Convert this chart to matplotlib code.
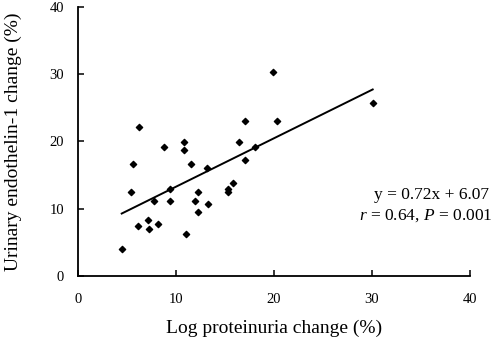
import matplotlib
matplotlib.use("Agg")
import matplotlib.pyplot as plt
import numpy as np

# Data
x_vals = [4.46, 5.44, 6.12, 7.11, 7.28, 7.79, 8.2, 9.35, 9.42, 11.0, 11.94,
          12.24, 12.24, 13.23, 15.27, 15.27, 15.8,
          5.58, 6.22, 8.74, 10.82, 10.82, 11.53, 13.2, 16.4, 17.0, 17.0, 18.1,
          19.87, 20.27, 30.07]
y_vals = [4.06, 12.5, 7.47, 8.37, 6.93, 11.1, 7.77, 11.1, 12.9, 6.3, 11.1,
          12.5, 9.55, 10.7, 12.93, 12.5, 13.87,
          16.64, 22.1, 19.17, 19.9, 18.67, 16.64, 16.1, 19.9, 22.98, 17.3, 19.1,
          30.27, 22.98, 25.75]
slope = 0.72
intercept = 6.07
fit_x_range = [4.46, 30.07]
x_ticks = [0, 10, 20, 30, 40]
y_ticks = [0, 10, 20, 30, 40]

plt.rcParams['font.family'] = ['Liberation Serif', 'DejaVu Serif']
plt.rcParams['mathtext.fontset'] = 'custom'
plt.rcParams['mathtext.rm'] = 'Liberation Serif'
plt.rcParams['mathtext.it'] = 'Liberation Serif:italic'

fig = plt.figure(figsize=(5.0, 3.42), dpi=100)
ax = fig.add_axes([0.156, 0.193, 0.784, 0.787])

ax.scatter(x_vals, y_vals, marker='D', s=10, color='black', zorder=3)
fx = np.array(fit_x_range)
ax.plot(fx, slope * fx + intercept, color='black', lw=1.4)

ax.set_xlim(0, 40)
ax.set_ylim(0, 40)
ax.set_xticks(x_ticks)
ax.set_yticks(y_ticks)
for s in ['top', 'right']:
    ax.spines[s].set_visible(False)
for s in ['left', 'bottom']:
    ax.spines[s].set_linewidth(1.3)
ax.tick_params(direction='in', length=4, width=1.1, labelsize=10.5)
ax.tick_params(axis='x', pad=12)
ax.tick_params(axis='y', pad=10)

ax.set_xlabel('Log proteinuria change (%)', fontsize=14, labelpad=10)
ax.set_ylabel('Urinary endothelin-1 change (%)', fontsize=14, labelpad=20)

fig.text(0.978, 1 - 199 / 342, 'y = 0.72x + 6.07', ha='right', va='baseline', fontsize=12.5)
fig.text(0.986, 1 - 220 / 342, r'$r$ = 0.64, $P$ = 0.001', ha='right', va='baseline', fontsize=12.5)

fig.savefig('out.png', dpi=100)
